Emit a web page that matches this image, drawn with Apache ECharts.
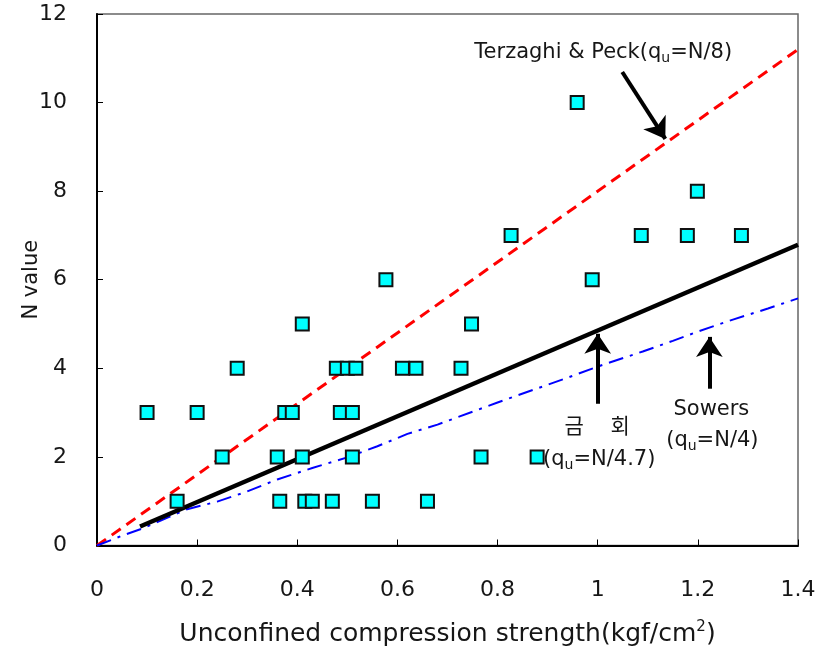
<!DOCTYPE html>
<html>
<head>
<meta charset="utf-8">
<script src="https://cdn.jsdelivr.net/npm/echarts@6/dist/echarts.min.js"></script>
<style>
  html, body { margin: 0; padding: 0; background: #fff; }
  #chart { width: 822px; height: 652px; }
</style>
</head>
<body>
<div id="chart"></div>
<script>
// Measured samples: unconfined compression strength (kgf/cm2) vs SPT N value
const sampleQu = [0.10, 0.16, 0.20, 0.25, 0.28, 0.36, 0.365, 0.375, 0.39, 0.41, 0.41, 0.415, 0.43, 0.47,
                  0.478, 0.486, 0.50, 0.51, 0.51, 0.517, 0.55, 0.577, 0.61, 0.637, 0.66, 0.727, 0.748,
                  0.767, 0.827, 0.879, 0.959, 0.989, 1.087, 1.179, 1.199, 1.287];
const sampleN  = [3, 1, 3, 2, 4, 2, 1, 3, 3, 5, 2, 1, 1, 1,
                  4, 3, 4, 3, 2, 4, 1, 6, 4, 4, 1, 4, 5,
                  2, 7, 2, 10, 6, 7, 7, 8, 7];

// Terzaghi & Peck: qu = N/8
const terzaghiQu = [0, 1.4];
const terzaghiN  = [0, 11.2];

// This study (qu = N/4.7)
const studyQu = [0.086, 1.4];
const studyN  = [0.43, 6.79];

// Sowers: qu = N/4
const sowersQu = [0, 0.05, 0.09, 0.18, 0.24, 0.30, 0.36, 0.43, 0.50, 0.56, 0.62, 0.68, 0.75, 0.80,
                  0.94, 1.00, 1.09, 1.15, 1.20, 1.27, 1.34, 1.40];
const sowersN  = [0, 0.22, 0.38, 0.82, 0.99, 1.22, 1.49, 1.75, 1.99, 2.24, 2.52, 2.73, 3.02, 3.23,
                  3.79, 4.04, 4.38, 4.62, 4.83, 5.10, 5.35, 5.58];

// Annotation arrows (tail -> head, in data units)
const arrowTailQu = [1.049, 1.0, 1.223];
const arrowTailN  = [10.69, 3.2, 3.54];
const arrowHeadQu = [1.135, 1.0, 1.223];
const arrowHeadN  = [9.18, 4.78, 4.71];

// Annotation labels
const noteText = ['Terzaghi & Peck(q{sub|u}=N/8)', '금    회', '(q{sub|u}=N/4.7)', 'Sowers', '(q{sub|u}=N/4)'];
const noteQu   = [1.011, 0.999, 1.003, 1.227, 1.229];
const noteN    = [11.14, 2.66, 1.94, 3.07, 2.38];

const xTitle = 'Unconfined compression strength(kgf/cm{sup|2})';
const yTitle = 'N value';

const zip = (a, b) => a.map((v, i) => [v, b[i]]);
const FONT = '"DejaVu Sans", "Noto Sans CJK KR", sans-serif';
const INK = '#161616';

const chart = echarts.init(document.getElementById('chart'), null, { renderer: 'canvas' });

const arrowLines = arrowTailQu.map((q, i) => [
  { coord: [q, arrowTailN[i]] },
  { coord: [arrowHeadQu[i], arrowHeadN[i]] }
]);

const notes = noteText.map((t, i) => ({
  coord: [noteQu[i], noteN[i]],
  label: { formatter: t }
}));

chart.setOption({
  animation: false,
  backgroundColor: '#fff',
  grid: {
    left: 97, right: 24, top: 14, bottom: 106,
    show: true, borderColor: '#666', borderWidth: 1.5, backgroundColor: 'transparent'
  },
  xAxis: {
    type: 'value', min: 0, max: 1.4, interval: 0.2,
    name: xTitle, nameLocation: 'middle', nameGap: 74, nameMoveOverlap: false,
    nameTextStyle: {
      fontFamily: FONT, fontSize: 25, color: INK,
      rich: { sup: { fontFamily: FONT, fontSize: 15, color: INK, verticalAlign: 'top', lineHeight: 30 } }
    },
    axisLine: { show: true, onZero: false, lineStyle: { color: '#000', width: 2 } },
    axisTick: { show: true, inside: true, length: 6, lineStyle: { color: '#000', width: 1 } },
    axisLabel: { fontFamily: FONT, fontSize: 22, color: INK, margin: 34 },
    splitLine: { show: false }
  },
  yAxis: {
    type: 'value', min: 0, max: 12, interval: 2,
    name: yTitle, nameLocation: 'middle', nameGap: 55, nameRotate: 90, nameMoveOverlap: false,
    nameTextStyle: { fontFamily: FONT, fontSize: 21, color: INK },
    axisLine: { show: true, onZero: false, lineStyle: { color: '#000', width: 2 } },
    axisTick: { show: true, inside: true, length: 6, lineStyle: { color: '#000', width: 1 } },
    axisLabel: { fontFamily: FONT, fontSize: 22, color: INK, margin: 30 },
    splitLine: { show: false }
  },
  series: [
    {
      name: 'Terzaghi & Peck', type: 'line', data: zip(terzaghiQu, terzaghiN),
      symbol: 'none', z: 2,
      lineStyle: { color: '#ff0000', width: 3, type: [11, 7] }
    },
    {
      name: 'Sowers', type: 'line', data: zip(sowersQu, sowersN),
      symbol: 'none', z: 2,
      lineStyle: { color: '#0000ff', width: 2, type: [15, 7, 3, 7] }
    },
    {
      name: 'This study', type: 'line', data: zip(studyQu, studyN),
      symbol: 'none', z: 3,
      lineStyle: { color: '#000', width: 4.5 }
    },
    {
      name: 'Samples', type: 'scatter', data: zip(sampleQu, sampleN),
      symbol: 'rect', symbolSize: 13, z: 4,
      itemStyle: { color: '#00ffff', borderColor: '#111', borderWidth: 2, opacity: 1 }
    },
    {
      name: 'Notes', type: 'line', data: [], z: 5,
      markLine: {
        silent: true, animation: false,
        symbol: ['none', 'arrow'], symbolSize: 20,
        label: { show: false },
        lineStyle: { color: '#000', width: 4, type: 'solid' },
        itemStyle: { color: '#000' },
        data: arrowLines
      },
      markPoint: {
        silent: true, animation: false,
        symbol: 'circle', symbolSize: 1, itemStyle: { color: 'transparent' },
        label: {
          show: true, position: 'inside',
          fontFamily: FONT, fontSize: 21, color: INK, lineHeight: 26,
          rich: {
            sub: { fontFamily: FONT, fontSize: 14, color: INK, verticalAlign: 'bottom', lineHeight: 16 }
          }
        },
        data: notes
      }
    }
  ]
});
</script>
</body>
</html>
